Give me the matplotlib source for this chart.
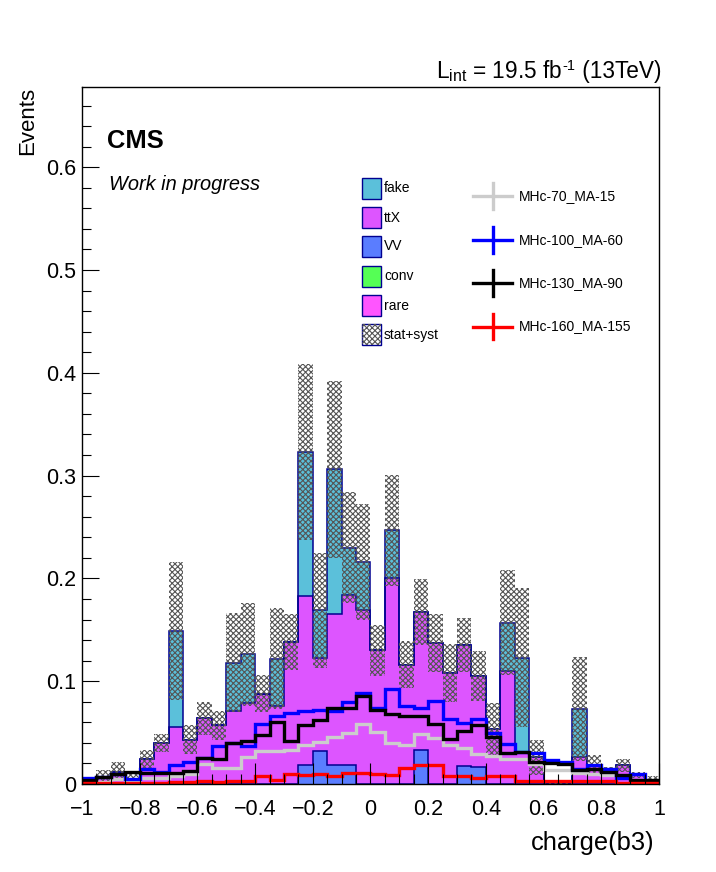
import numpy as np
import matplotlib
matplotlib.use("Agg")
import matplotlib.pyplot as plt
from matplotlib.patches import Rectangle
from matplotlib.lines import Line2D

plt.rcParams["font.family"] = ["Liberation Sans", "DejaVu Sans"]
plt.rcParams["mathtext.fontset"] = "custom"
plt.rcParams["mathtext.rm"] = "Liberation Sans"
plt.rcParams["hatch.linewidth"] = 0.8

# Binning: 40 bins from -1 to 1
edges = np.linspace(-1, 1, 41)

# Backgrounds (stacked: rare, conv, VV, ttX, fake)
rare = np.zeros(40)
conv = np.zeros(40)
vv = np.array([0, 0, 0, 0, 0, 0, 0, 0, 0, 0,
               0, 0, 0, 0, 0, 0.018, 0.032, 0.018, 0.018, 0,
               0, 0, 0, 0.033, 0, 0, 0.0175, 0.017, 0, 0,
               0, 0, 0, 0, 0, 0, 0, 0, 0, 0])
ttx = np.array([0.004, 0.007, 0.012, 0.0045, 0.024, 0.040, 0.055, 0.043, 0.064, 0.057,
                0.071, 0.079, 0.088, 0.076, 0.138, 0.165, 0.091, 0.147, 0.166, 0.169,
                0.130, 0.200, 0.116, 0.134, 0.137, 0.108, 0.1175, 0.088, 0.0535, 0.110,
                0.030, 0.026, 0.0005, 0.001, 0.026, 0.018, 0.012, 0.018, 0.009, 0.004])
fake = np.array([0, 0, 0, 0, 0, 0, 0.094, 0, 0, 0,
                 0.047, 0.047, 0, 0.046, 0, 0.140, 0.046, 0.141, 0.046, 0.047,
                 0, 0.047, 0, 0, 0, 0, 0, 0, 0, 0.047,
                 0.093, 0, 0, 0, 0.047, 0, 0, 0, 0, 0])
err = np.array([0.003, 0.0066, 0.009, 0.0055, 0.009, 0.009, 0.067, 0.014, 0.016, 0.014,
                0.048, 0.050, 0.018, 0.049, 0.027, 0.086, 0.056, 0.086, 0.054, 0.056,
                0.025, 0.054, 0.023, 0.032, 0.028, 0.028, 0.026, 0.024, 0.025, 0.051,
                0.068, 0.017, 0.0005, 0.001, 0.051, 0.010, 0.005, 0.006, 0.003, 0.004])

# Signals
sig_70 = np.array([0.003, 0.002, 0.0045, 0.004, 0.0055, 0.0055, 0.008, 0.010, 0.019, 0.016,
                   0.016, 0.026, 0.032, 0.032, 0.033, 0.038, 0.041, 0.046, 0.050, 0.058,
                   0.051, 0.040, 0.038, 0.049, 0.045, 0.038, 0.035, 0.029, 0.027, 0.024,
                   0.024, 0.019, 0.014, 0.0136, 0.011, 0.010, 0.009, 0.007, 0.004, 0.003])
sig_100 = np.array([0.006, 0.007, 0.010, 0.0045, 0.015, 0.012, 0.0185, 0.021, 0.025, 0.037,
                    0.040, 0.037, 0.058, 0.066, 0.069, 0.071, 0.072, 0.071, 0.080, 0.089,
                    0.074, 0.092, 0.076, 0.074, 0.081, 0.063, 0.059, 0.063, 0.050, 0.039,
                    0.031, 0.030, 0.023, 0.021, 0.015, 0.018, 0.015, 0.0055, 0.010, 0.003])
sig_130 = np.array([0.004, 0.007, 0.010, 0.012, 0.011, 0.011, 0.011, 0.0126, 0.025, 0.024,
                    0.040, 0.042, 0.048, 0.060, 0.042, 0.057, 0.062, 0.074, 0.074, 0.086,
                    0.072, 0.068, 0.066, 0.066, 0.058, 0.044, 0.052, 0.057, 0.046, 0.030,
                    0.031, 0.021, 0.020, 0.0195, 0.014, 0.015, 0.012, 0.0088, 0.004, 0.004])
sig_160 = np.array([0.001, 0.0005, 0.0005, 0.0005, 0.0005, 0.0005, 0.002, 0.002, 0.003, 0.002,
                    0.003, 0.003, 0.008, 0.004, 0.010, 0.009, 0.010, 0.008, 0.011, 0.011,
                    0.010, 0.009, 0.016, 0.018, 0.018, 0.0075, 0.0075, 0.006, 0.0075, 0.0075,
                    0.003, 0.003, 0.003, 0.003, 0.003, 0.003, 0.0025, 0.001, 0.001, 0.001])

bkg_names = ["fake", "ttX", "VV", "conv", "rare"]
bkg_colors = {"fake": "#5bc0da", "ttX": "#dd55ff", "VV": "#5a7dff",
              "conv": "#55ff55", "rare": "#ff55ff"}
sig_names = ["MHc-70_MA-15", "MHc-100_MA-60", "MHc-130_MA-90", "MHc-160_MA-155"]
sig_colors = ["#cccccc", "#0000ff", "#000000", "#ff0000"]
edge_col = "#000090"

W, H = 716, 872
fig = plt.figure(figsize=(W / 100, H / 100), dpi=100)


def fx(px):
    return px / W


def fy(py):
    return 1 - py / H


ax = fig.add_axes([fx(82), fy(784), (659 - 82) / W, (784 - 87) / H])

# Stack: fills first, then step outlines of every cumulative layer
width = np.diff(edges)
bottom = np.zeros(40)
tops = []
for name, vals in [("rare", rare), ("conv", conv), ("VV", vv), ("ttX", ttx), ("fake", fake)]:
    mask = vals > 0
    ax.bar(edges[:-1][mask], vals[mask], width=width[mask], bottom=bottom[mask],
           align="edge", color=bkg_colors[name], linewidth=0)
    bottom = bottom + vals
    if vals.sum() > 0:
        tops.append(bottom.copy())
total = bottom
for cum in tops:
    ax.stairs(cum, edges, color=edge_col, linewidth=1.1, baseline=0)

# stat+syst band
ax.bar(edges[:-1], 2 * err, width=width, bottom=total - err, align="edge",
       facecolor="none", edgecolor="#555555", hatch="xxxxxx", linewidth=0)

# Signals
for vals, c in zip([sig_70, sig_100, sig_130, sig_160], sig_colors):
    ax.stairs(vals, edges, color=c, linewidth=2.4, baseline=None)

ax.set_xlim(-1, 1)
ax.set_ylim(0, 0.678)
ax.set_xticks(np.arange(-1, 1.01, 0.2))
ax.set_xticks(np.arange(-1, 1.01, 0.05), minor=True)
ax.set_xticklabels(["\u22121", "\u22120.8", "\u22120.6", "\u22120.4", "\u22120.2", "0",
                    "0.2", "0.4", "0.6", "0.8", "1"])
ax.set_yticks(np.arange(0, 0.61, 0.1))
ax.set_yticks(np.arange(0, 0.678, 0.02), minor=True)
ax.set_yticklabels(["0", "0.1", "0.2", "0.3", "0.4", "0.5", "0.6"])
ax.tick_params(axis="x", which="major", direction="in", length=15, width=0.8,
               labelsize=15.5, pad=11)
ax.tick_params(axis="x", which="minor", direction="in", length=7.5, width=0.8)
ax.tick_params(axis="y", which="major", direction="in", length=12.5, width=0.8,
               labelsize=15.5, pad=4)
ax.tick_params(axis="y", which="minor", direction="in", length=6.3, width=0.8)
for s in ax.spines.values():
    s.set_linewidth(1.0)

# Axis titles
fig.text(fx(28), fy(87), "Events", rotation=90, ha="center", va="top", fontsize=16)
fig.text(fx(655), fy(850), "charge(b3)", ha="right", va="baseline", fontsize=18.4)

# Labels
fig.text(fx(107), fy(148), "CMS", fontsize=18.4, fontweight="bold", va="baseline")
fig.text(fx(109), fy(190), "Work in progress", fontsize=14.4, fontstyle="italic",
         va="baseline")

# Luminosity label built right to left from pieces
renderer = fig.canvas.get_renderer()
x_right = 661
pieces = [(" (13TeV)", 16.3, 0), ("-1", 10.5, 8), (r"L$_{\rm int}$ = 19.5 fb", 16.3, 0)]
for txt, size, dy in pieces:
    t = fig.text(fx(x_right), fy(78 - dy), txt, ha="right", va="baseline", fontsize=size)
    bb = t.get_window_extent(renderer)
    x_right -= bb.width

# Legend: backgrounds
rows = [188.5, 217.5, 246.5, 276.5, 305.5, 334.5]
for name, yc in zip(bkg_names, rows):
    fig.add_artist(Rectangle((fx(362), fy(yc + 10.5)), 19 / W, 21 / H,
                             transform=fig.transFigure, facecolor=bkg_colors[name],
                             edgecolor=edge_col, linewidth=1.0))
    fig.text(fx(384), fy(yc), name, fontsize=10, va="center")
fig.add_artist(Rectangle((fx(362), fy(rows[5] + 10.5)), 19 / W, 21 / H,
                         transform=fig.transFigure, facecolor="white",
                         edgecolor=edge_col, linewidth=1.0))
fig.add_artist(Rectangle((fx(362), fy(rows[5] + 10.5)), 19 / W, 21 / H,
                         transform=fig.transFigure, facecolor="none",
                         edgecolor="#555555", hatch="xxxxxx", linewidth=0))
fig.text(fx(384), fy(rows[5]), "stat+syst", fontsize=10, va="center")

# Legend: signals
srows = [196, 240, 283, 326.5]
for name, c, yc in zip(sig_names, sig_colors, srows):
    fig.add_artist(Line2D([fx(473), fx(512)], [fy(yc), fy(yc)], color=c, linewidth=2.4))
    fig.add_artist(Line2D([fx(492.5), fx(492.5)], [fy(yc - 13), fy(yc + 13)], color=c,
                          linewidth=2.4))
    fig.text(fx(519), fy(yc), name, fontsize=10, va="center")

fig.savefig("out.png", dpi=100)
